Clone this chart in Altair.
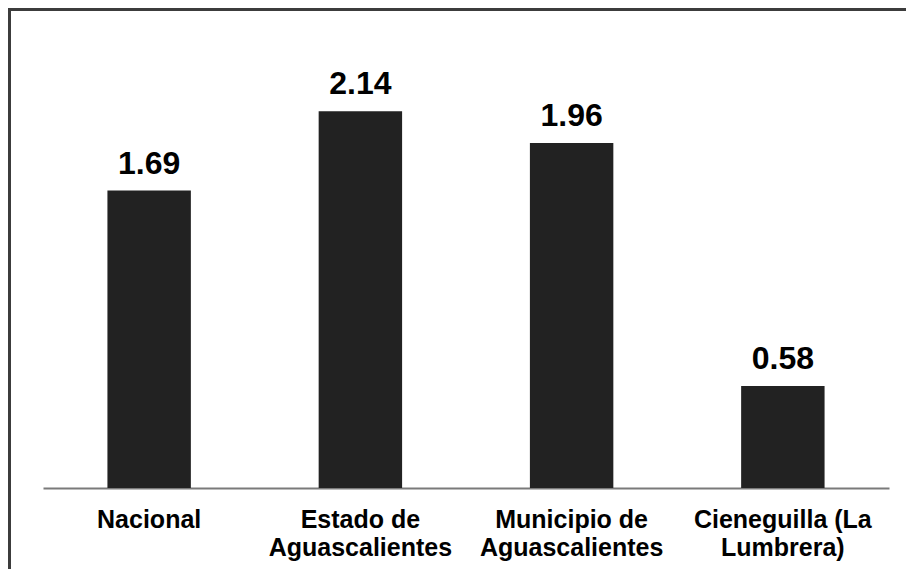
import altair as alt
import pandas as pd

categories = [
    "Nacional",
    "Estado de\nAguascalientes",
    "Municipio de\nAguascalientes",
    "Cieneguilla (La\nLumbrera)",
]
values = [1.69, 2.14, 1.96, 0.58]

df = pd.DataFrame({"cat": categories, "val": values})

FONT = "Liberation Sans"

x_enc = alt.X(
    "cat:N",
    sort=None,
    scale=alt.Scale(paddingInner=0.605, paddingOuter=0.305),
    axis=alt.Axis(
        title=None,
        ticks=False,
        tickSize=0,
        domainColor="#7a7a7a",
        domainWidth=2,
        labelAngle=0,
        labelFont=FONT,
        labelFontSize=25,
        labelFontWeight="bold",
        labelColor="#000000",
        labelBaseline="alphabetic",
        labelPadding=39,
        labelLineHeight=28,
        labelAlign="center",
        labelLimit=0,
        labelExpr="split(datum.label, '\\n')",
    ),
)
y_enc = alt.Y("val:Q", scale=alt.Scale(domain=[0, 2.5]), axis=None)

base = alt.Chart(df)

bars = base.mark_bar(color="#222222").encode(x=x_enc, y=y_enc)

texts = base.mark_text(
    font=FONT, fontSize=32, fontWeight="bold", color="#000000",
    baseline="alphabetic", dy=-17
).encode(x=x_enc, y=y_enc, text=alt.Text("val:Q", format=".2f"))

frame_color = "#3c3c3c"
top_border = alt.Chart(df).mark_rule(color=frame_color, strokeWidth=3).encode(
    x=alt.value(-35), x2=alt.value(863), y=alt.value(-38.5)
)
left_border = alt.Chart(df).mark_rule(color=frame_color, strokeWidth=3).encode(
    x=alt.value(-33.5), y=alt.value(-40), y2=alt.value(521)
)

chart = (
    alt.layer(bars, texts, top_border, left_border)
    .properties(
        width=846,
        height=440,
        background="#ffffff",
        autosize=alt.AutoSizeParams(type="none"),
        padding={"left": 35, "top": 40, "right": 17, "bottom": 81},
    )
    .configure_view(stroke="transparent", strokeWidth=0)
)

chart.save("out.html", embed_options={"renderer": "svg", "actions": False})
